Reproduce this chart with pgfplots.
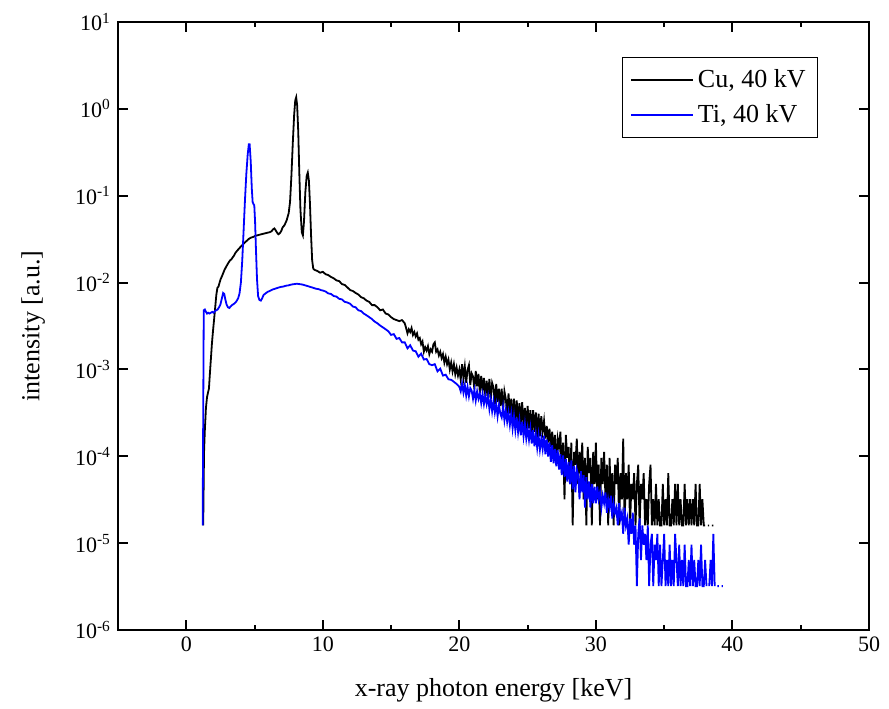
\documentclass[border=0pt]{standalone}
\usepackage{fontspec}
\setmainfont{Liberation Serif}
\usepackage{pgfplots}
\pgfplotsset{compat=1.18}
\begin{document}
\begin{tikzpicture}
\path[use as bounding box] (-59pt,-39pt) rectangle (385.5pt,315pt);
\begin{axis}[
  at={(0pt,0pt)}, anchor=south west,
  scale only axis, width=375.5pt, height=304pt,
  ymode=log, log basis y=10,
  xmin=-5, xmax=50, ymin=1e-6, ymax=10,
  xtick={0,10,20,30,40,50}, minor x tick num=1,
  ytick={1e-6,1e-5,1e-4,1e-3,1e-2,1e-1,1,10},
  yticklabels={10\textsuperscript{-6},10\textsuperscript{-5},10\textsuperscript{-4},10\textsuperscript{-3},10\textsuperscript{-2},10\textsuperscript{-1},10\textsuperscript{0},10\textsuperscript{1}},
  axis line style={line width=1pt},
  every tick/.style={line width=1pt, black},
  major tick length=5pt, minor tick length=2.6pt,
  tick align=inside,
  /pgf/number format/assume math mode=true,
  tick label style={font=\fontsize{11}{13}\selectfont},
  label style={font=\fontsize{13}{15}\selectfont},
  xlabel={x-ray photon energy [keV]},
  ylabel={intensity [a.u.]},
  xlabel style={at={(axis description cs:0.5,-0.0987)}, anchor=center},
  ylabel style={at={(axis description cs:-0.113,0.5)}, anchor=center},
  legend style={at={(0.932,0.942)}, anchor=north east,
    font=\fontsize{13}{15}\selectfont, inner xsep=4pt, inner ysep=4pt, row sep=3pt},
  legend cell align=left,
  legend image code/.code={\draw[#1, line width=0.75pt] (0pt,0pt) -- (31pt,0pt);},
  unbounded coords=jump,
]
\addplot[color=black, line width=0.9pt] coordinates {
(1.24,1.6e-5)(1.30,1.1e-4)(1.36,2.0e-4)(1.44,3.6e-4)(1.52,4.8e-4)(1.60,5.5e-4)(1.66,6.0e-4)(1.72,8.5e-4)(1.80,1.3e-3)(1.88,2.0e-3)(1.96,2.8e-3)(2.04,3.8e-3)(2.12,5.2e-3)(2.20,7.2e-3)(2.28,8.7e-3)(2.36,9.0e-3)(2.44,1.0e-2)(2.52,1.1e-2)(2.60,1.17e-2)(2.70,1.28e-2)(2.80,1.4e-2)(2.90,1.5e-2)(3.00,1.6e-2)(3.10,1.7e-2)(3.20,1.8e-2)(3.30,1.85e-2)(3.40,1.95e-2)(3.50,2.05e-2)(3.60,2.2e-2)(3.70,2.3e-2)(3.80,2.4e-2)(3.90,2.5e-2)(4.00,2.6e-2)(4.15,2.75e-2)(4.30,2.9e-2)(4.45,3.05e-2)(4.60,3.2e-2)(4.75,3.3e-2)(4.90,3.35e-2)(5.05,3.45e-2)(5.20,3.5e-2)(5.35,3.55e-2)(5.50,3.6e-2)(5.65,3.65e-2)(5.80,3.7e-2)(5.95,3.75e-2)(6.10,3.8e-2)(6.25,3.9e-2)(6.35,4.1e-2)(6.45,4.2e-2)(6.55,4.0e-2)(6.65,3.75e-2)(6.75,3.6e-2)(6.85,3.7e-2)(6.95,3.9e-2)(7.05,4.3e-2)(7.20,4.6e-2)(7.35,5.2e-2)(7.50,6.3e-2)(7.60,8.5e-2)(7.70,0.17)(7.80,0.4)(7.90,0.85)(7.98,1.25)(8.05,1.36)(8.12,1.1)(8.20,0.55)(8.28,0.18)(8.36,0.07)(8.46,0.038)(8.54,0.035)(8.62,0.05)(8.72,0.11)(8.82,0.17)(8.90,0.185)(8.98,0.15)(9.06,0.08)(9.14,0.035)(9.22,0.018)(9.30,0.0145)
(9.4,1.40e-2)(9.6,1.36e-2)(9.8,1.30e-2)(10.0,1.33e-2)(10.2,1.25e-2)(10.4,1.22e-2)(10.6,1.16e-2)(10.8,1.12e-2)(11.0,1.06e-2)(11.2,1.04e-2)(11.4,9.6e-3)(11.6,9.4e-3)(11.8,8.8e-3)(12.0,8.2e-3)(12.2,8.0e-3)(12.4,7.6e-3)(12.6,7.3e-3)(12.8,6.8e-3)(13.0,6.6e-3)(13.2,6.2e-3)(13.4,6.0e-3)(13.6,5.5e-3)(13.8,5.5e-3)(14.0,5.2e-3)(14.2,4.8e-3)(14.4,4.9e-3)(14.6,4.4e-3)(14.8,4.3e-3)(15.0,4.0e-3)(15.2,3.8e-3)(15.4,3.7e-3)(15.6,3.6e-3)(15.8,3.7e-3)
(16.0,3.4e-3)(16.1,3.0e-3)(16.2,2.6e-3)(16.3,2.9e-3)(16.4,2.7e-3)(16.5,3.0e-3)(16.6,2.5e-3)(16.7,2.7e-3)(16.8,2.4e-3)(16.9,2.6e-3)(17.0,2.2e-3)(17.1,2.3e-3)(17.2,1.95e-3)(17.3,2.1e-3)(17.4,1.6e-3)(17.5,1.8e-3)(17.6,1.65e-3)(17.7,1.85e-3)(17.8,1.5e-3)(17.9,1.7e-3)(18.0,1.6e-3)(18.1,1.95e-3)(18.2,2.05e-3)(18.3,1.6e-3)(18.4,1.7e-3)(18.5,1.45e-3)(18.6,1.6e-3)(18.7,1.35e-3)(18.8,1.5e-3)(18.9,1.2e-3)(19.0,1.4e-3)(19.1,1.15e-3)(19.2,1.3e-3)(19.3,1.0e-3)(19.4,1.2e-3)(19.5,9.5e-4)(19.6,1.15e-3)(19.7,8.8e-4)(19.8,1.05e-3)(19.9,8.5e-4)(20.0,1.0e-3)
(20.1,7.6e-4)(20.2,1.15e-3)(20.3,8.0e-4)(20.4,1.08e-3)(20.5,7.0e-4)(20.6,9.9e-4)(20.7,1.12e-3)(20.8,6.6e-4)(20.9,9.0e-4)(21.0,8.3e-4)(21.1,5.9e-4)(21.2,9.6e-4)(21.3,6.4e-4)(21.4,8.9e-4)(21.5,5.4e-4)(21.6,8.4e-4)(21.7,5.8e-4)(21.8,8.0e-4)(21.9,4.9e-4)(22.0,7.4e-4)(22.1,4.7e-4)(22.2,7.8e-4)(22.3,4.5e-4)(22.4,7.0e-4)(22.5,6.2e-4)(22.6,4.0e-4)(22.7,6.8e-4)(22.8,4.2e-4)(22.9,6.0e-4)(23.0,3.8e-4)(23.1,6.0e-4)(23.2,3.3e-4)(23.3,5.6e-4)(23.4,4.6e-4)(23.5,3.0e-4)(23.6,5.3e-4)(23.7,3.1e-4)(23.8,4.6e-4)(23.9,2.7e-4)(24.0,4.6e-4)(24.1,2.6e-4)(24.2,4.4e-4)(24.3,2.5e-4)(24.4,4.1e-4)(24.5,2.3e-4)(24.6,4.2e-4)(24.7,2.2e-4)(24.8,3.6e-4)(24.9,2.0e-4)(25.0,3.8e-4)(25.1,2.1e-4)(25.2,3.4e-4)(25.3,1.8e-4)(25.4,3.4e-4)(25.5,1.9e-4)(25.6,3.2e-4)(25.7,1.6e-4)(25.8,3.1e-4)(25.9,1.7e-4)(26.0,2.9e-4)
(26.1,1.92e-4)(26.2,2.56e-4)(26.3,1.6e-4)(26.4,2.24e-4)(26.5,1.44e-4)(26.6,2.08e-4)(26.7,1.28e-4)(26.8,1.92e-4)(26.9,1.12e-4)(27.0,1.76e-4)(27.1,8.0e-5)(27.2,1.6e-4)(27.3,1.28e-4)(27.4,1.92e-4)(27.5,6.4e-5)(27.6,1.44e-4)(27.7,3.2e-5)(27.8,1.76e-4)(27.9,9.6e-5)(28.0,1.28e-4)(28.1,4.8e-5)(28.2,1.44e-4)(28.3,1.6e-5)(28.4,1.12e-4)(28.5,8.0e-5)(28.6,1.6e-4)(28.7,4.8e-5)(28.8,1.12e-4)(28.9,6.4e-5)(29.0,1.44e-4)(29.1,3.2e-5)(29.2,9.6e-5)(29.3,1.6e-5)(29.4,1.28e-4)(29.5,6.4e-5)(29.6,9.6e-5)(29.7,1.6e-5)(29.8,1.12e-4)(29.9,4.8e-5)(30.0,1.44e-4)(30.1,3.2e-5)(30.2,8.0e-5)(30.3,1.6e-5)(30.4,9.6e-5)(30.5,4.8e-5)(30.6,1.12e-4)(30.7,3.2e-5)(30.8,8.0e-5)(30.9,1.6e-5)(31.0,9.6e-5)(31.1,3.2e-5)(31.2,6.4e-5)(31.3,1.6e-5)(31.4,8.0e-5)(31.5,4.8e-5)(31.6,9.6e-5)(31.7,1.6e-5)(31.8,6.4e-5)(31.9,3.2e-5)(32.0,1.6e-4)(32.1,1.6e-5)(32.2,6.4e-5)(32.3,3.2e-5)(32.4,8.0e-5)(32.5,1.6e-5)(32.6,4.8e-5)(32.7,3.2e-5)(32.8,6.4e-5)(32.9,1.6e-5)(33.0,4.8e-5)(33.1,8.0e-5)(33.2,1.6e-5)(33.3,4.8e-5)(33.4,3.2e-5)(33.5,6.4e-5)(33.6,1.6e-5)(33.7,3.2e-5)(33.8,1.6e-5)(33.9,4.8e-5)(34.0,8.0e-5)(34.1,1.6e-5)(34.2,3.2e-5)(34.3,1.6e-5)(34.4,4.8e-5)(34.5,1.6e-5)(34.6,3.2e-5)(34.7,1.6e-5)(34.8,1.6e-5)(34.9,4.8e-5)(35.0,1.6e-5)(35.1,3.2e-5)(35.2,1.6e-5)(35.3,6.4e-5)(35.4,1.6e-5)(35.5,1.6e-5)(35.6,3.2e-5)(35.7,1.6e-5)(35.8,4.8e-5)(35.9,1.6e-5)(36.0,4.8e-5)(36.1,1.6e-5)(36.2,3.2e-5)(36.3,1.6e-5)(36.4,1.6e-5)(36.5,4.8e-5)(36.6,1.6e-5)(36.7,3.2e-5)(36.8,1.6e-5)(36.9,3.2e-5)(37.0,1.6e-5)(37.1,3.2e-5)(37.2,1.6e-5)(37.3,4.8e-5)(37.4,1.6e-5)(37.5,1.6e-5)(37.6,4.8e-5)(37.7,1.6e-5)(37.8,3.2e-5)(37.9,1.6e-5)(38.0,1.6e-5)(38.1,nan)(38.2,1.6e-5)(38.3,1.6e-5)(38.4,nan)(38.5,1.6e-5)(38.6,1.6e-5)
};
\addlegendentry{Cu, 40 kV}
\addplot[color=blue, line width=0.9pt] coordinates {
(1.20,1.6e-5)(1.28,4.8e-3)(1.36,4.9e-3)(1.44,4.6e-3)(1.52,4.4e-3)(1.60,4.5e-3)(1.70,4.4e-3)(1.80,4.5e-3)(1.90,4.6e-3)(2.00,4.5e-3)(2.10,4.7e-3)(2.20,4.8e-3)(2.30,4.9e-3)(2.40,5.2e-3)(2.50,5.6e-3)(2.60,6.5e-3)(2.70,7.6e-3)(2.78,7.4e-3)(2.86,6.4e-3)(2.95,5.6e-3)(3.05,5.2e-3)(3.15,5.1e-3)(3.25,5.3e-3)(3.35,5.5e-3)(3.50,5.7e-3)(3.65,6.0e-3)(3.80,6.6e-3)(3.90,7.5e-3)(4.00,1.0e-2)(4.10,1.8e-2)(4.20,4.0e-2)(4.30,0.09)(4.40,0.18)(4.50,0.30)(4.58,0.39)(4.64,0.39)(4.72,0.25)(4.80,0.12)(4.86,0.085)(4.92,0.08)(4.98,0.078)(5.04,0.05)(5.10,0.025)(5.18,0.011)(5.26,7.0e-3)(5.36,6.3e-3)(5.46,6.2e-3)(5.56,6.6e-3)(5.66,7.2e-3)(5.80,7.5e-3)(5.95,7.8e-3)(6.10,8.0e-3)(6.30,8.3e-3)(6.50,8.5e-3)(6.70,8.7e-3)(6.90,8.9e-3)(7.10,9.0e-3)(7.30,9.2e-3)(7.50,9.3e-3)(7.70,9.5e-3)(7.90,9.6e-3)(8.10,9.7e-3)(8.30,9.6e-3)(8.50,9.5e-3)(8.70,9.3e-3)(8.90,9.1e-3)(9.10,8.9e-3)(9.30,8.7e-3)(9.50,8.5e-3)(9.70,8.4e-3)(9.85,8.2e-3)
(10.0,8.1e-3)(10.2,7.9e-3)(10.4,7.5e-3)(10.6,7.4e-3)(10.8,7.0e-3)(11.0,6.9e-3)(11.2,6.5e-3)(11.4,6.4e-3)(11.6,6.0e-3)(11.8,5.9e-3)(12.0,5.7e-3)(12.2,5.3e-3)(12.4,5.2e-3)(12.6,4.8e-3)(12.8,4.7e-3)(13.0,4.4e-3)(13.2,4.2e-3)(13.4,4.0e-3)(13.6,3.8e-3)(13.8,3.55e-3)(14.0,3.4e-3)(14.2,3.2e-3)(14.4,3.05e-3)(14.6,2.9e-3)(14.8,2.75e-3)(15.0,2.5e-3)(15.2,2.55e-3)(15.4,2.25e-3)(15.6,2.3e-3)(15.8,2.05e-3)(16.0,2.05e-3)(16.2,1.75e-3)(16.4,1.9e-3)(16.6,1.65e-3)(16.8,1.62e-3)(17.0,1.4e-3)(17.2,1.52e-3)(17.4,1.3e-3)(17.6,1.32e-3)(17.8,1.15e-3)(18.0,1.12e-3)(18.2,1.15e-3)(18.4,9.5e-4)(18.6,1.02e-3)(18.8,8.5e-4)(19.0,8.7e-4)(19.2,7.7e-4)(19.4,7.6e-4)(19.6,7.2e-4)(19.8,6.8e-4)(20.0,6.3e-4)
(20.1,5.6e-4)(20.2,6.9e-4)(20.3,5.4e-4)(20.4,6.6e-4)(20.5,5.0e-4)(20.6,6.3e-4)(20.7,4.9e-4)(20.8,6.1e-4)(20.9,5.7e-4)(21.0,4.6e-4)(21.1,5.8e-4)(21.2,4.4e-4)(21.3,5.6e-4)(21.4,4.6e-4)(21.5,5.3e-4)(21.6,4.1e-4)(21.7,5.2e-4)(21.8,4.0e-4)(21.9,5.0e-4)(22.0,4.0e-4)(22.1,4.9e-4)(22.2,3.5e-4)(22.3,4.5e-4)(22.4,3.3e-4)(22.5,4.3e-4)(22.6,3.2e-4)(22.7,4.0e-4)(22.8,2.9e-4)(22.9,3.9e-4)(23.0,3.1e-4)(23.1,2.8e-4)(23.2,3.7e-4)(23.3,2.6e-4)(23.4,3.4e-4)(23.5,2.5e-4)(23.6,3.2e-4)(23.7,2.3e-4)(23.8,3.1e-4)(23.9,2.1e-4)(24.0,2.9e-4)(24.1,2.0e-4)(24.2,2.8e-4)(24.3,1.9e-4)(24.4,2.6e-4)(24.5,1.75e-4)(24.6,2.5e-4)(24.7,1.7e-4)(24.8,2.35e-4)(24.9,1.6e-4)(25.0,2.1e-4)(25.1,1.55e-4)(25.2,2.1e-4)(25.3,1.4e-4)(25.4,2.0e-4)(25.5,1.3e-4)(25.6,1.8e-4)(25.7,1.25e-4)(25.8,1.75e-4)(25.9,1.2e-4)(26.0,1.6e-4)
(26.1,1.216e-4)(26.2,1.728e-4)(26.3,1.056e-4)(26.4,1.568e-4)(26.5,9.92e-5)(26.6,1.44e-4)(26.7,8.64e-5)(26.8,1.344e-4)(26.9,8.32e-5)(27.0,1.216e-4)(27.1,7.68e-5)(27.2,1.184e-4)(27.3,7.04e-5)(27.4,1.056e-4)(27.5,6.08e-5)(27.6,1.024e-4)(27.7,5.76e-5)(27.8,9.28e-5)(27.9,5.12e-5)(28.0,8.64e-5)(28.1,4.8e-5)(28.2,8.96e-5)(28.3,4.16e-5)(28.4,7.68e-5)(28.5,3.84e-5)(28.6,7.04e-5)(28.7,6.08e-5)(28.8,3.2e-5)(28.9,6.72e-5)(29.0,3.84e-5)(29.1,6.08e-5)(29.2,2.56e-5)(29.3,5.76e-5)(29.4,3.2e-5)(29.5,5.12e-5)(29.6,2.56e-5)(29.7,4.8e-5)(29.8,2.88e-5)(29.9,4.48e-5)
(30.0,2.88e-5)(30.1,4.48e-5)(30.2,3.2e-5)(30.3,3.84e-5)(30.4,2.56e-5)(30.5,3.52e-5)(30.6,2.88e-5)(30.7,3.84e-5)(30.8,2.24e-5)(30.9,3.2e-5)(31.0,2.56e-5)(31.1,3.52e-5)(31.2,1.92e-5)(31.3,2.88e-5)(31.4,2.24e-5)(31.5,2.56e-5)(31.6,1.6e-5)(31.7,2.88e-5)(31.8,1.92e-5)(31.9,2.24e-5)(32.0,1.28e-5)(32.1,2.56e-5)(32.2,1.6e-5)(32.3,1.92e-5)(32.4,9.6e-6)(32.5,1.92e-5)(32.6,1.28e-5)(32.7,2.24e-5)(32.8,9.6e-6)(32.9,1.6e-5)(33.0,3.2e-6)(33.1,1.28e-5)(33.2,1.92e-5)(33.3,6.4e-6)(33.4,1.6e-5)(33.5,9.6e-6)(33.6,1.28e-5)(33.7,6.4e-6)(33.8,1.6e-5)(33.9,3.2e-6)(34.0,9.6e-6)(34.1,1.28e-5)(34.2,3.2e-6)(34.3,9.6e-6)(34.4,6.4e-6)(34.5,1.28e-5)(34.6,3.2e-6)(34.7,9.6e-6)(34.8,3.2e-6)(34.9,6.4e-6)(35.0,1.28e-5)(35.1,3.2e-6)(35.2,6.4e-6)(35.3,3.2e-6)(35.4,9.6e-6)(35.5,3.2e-6)(35.6,6.4e-6)(35.7,3.2e-6)(35.8,1.28e-5)(35.9,6.4e-6)(36.0,3.2e-6)(36.1,9.6e-6)(36.2,3.2e-6)(36.3,6.4e-6)(36.4,3.2e-6)(36.5,9.6e-6)(36.6,3.2e-6)(36.7,3.2e-6)(36.8,6.4e-6)(36.9,3.2e-6)(37.0,9.6e-6)(37.1,3.2e-6)(37.2,6.4e-6)(37.3,3.2e-6)(37.4,3.2e-6)(37.5,6.4e-6)(37.6,3.2e-6)(37.7,9.6e-6)(37.8,3.2e-6)(37.9,3.2e-6)(38.0,6.4e-6)(38.1,3.2e-6)(38.2,nan)(38.3,3.2e-6)(38.4,6.4e-6)(38.5,3.2e-6)(38.6,1.28e-5)(38.7,3.2e-6)(38.8,nan)(38.9,3.2e-6)(39.0,3.2e-6)(39.1,nan)(39.2,3.2e-6)(39.3,3.2e-6)
};
\addlegendentry{Ti, 40 kV}
\end{axis}
\end{tikzpicture}
\end{document}
